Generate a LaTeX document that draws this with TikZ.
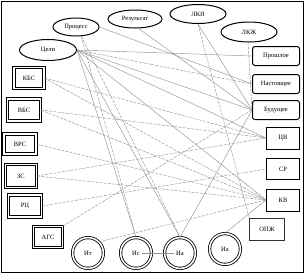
\documentclass[tikz,border=0pt]{standalone}
\usepackage{fontspec}
\setmainfont{Liberation Serif}
\usetikzlibrary{shapes.geometric}
\begin{document}
\begin{tikzpicture}[x=1pt,y=-1pt,
 lbl/.style={font=\fontsize{6.5}{7}\selectfont, inner sep=0pt},
 ell/.style={lbl, ellipse, draw=black, line width=1pt, fill=white},
 rbox/.style={lbl, draw=black, line width=1pt, rounded corners=2.5pt, fill=white},
 sbox/.style={lbl, draw=black, line width=1pt, fill=white},
 tbox/.style={lbl, draw=black!80, line width=0.6pt, fill=white},
 dbox/.style={lbl, draw=black, line width=0.8pt, double, double distance=1.8pt},
 dcirc/.style={lbl, circle, draw=black, line width=0.8pt, double, double distance=1.6pt, minimum size=30.8pt},
 conn/.style={draw=gray!85, line width=0.45pt},
 dconn/.style={conn, dash pattern=on 3pt off 1.2pt},
]
\useasboundingbox (0,0) rectangle (305,274);
\draw[line width=0.8pt] (1.5,1.5) rectangle (303.5,272.5);

% ellipses
\node[ell, minimum width=46pt, minimum height=18pt] (proc) at (76,27) {Процесс};
\node[ell, minimum width=54pt, minimum height=18pt] (res) at (135,19) {Результат};
\node[ell, minimum width=56pt, minimum height=19pt] (lkya) at (198,14) {ЛКЯ};
\node[ell, minimum width=56pt, minimum height=20pt] (lkzh) at (249,32) {ЛКЖ};
\node[ell, minimum width=57pt, minimum height=21pt] (celi) at (48,50) {Цели};

% right boxes
\node[rbox, minimum width=47pt, minimum height=19pt] (prosh) at (276,56) {Прошлое};
\node[rbox, minimum width=47pt, minimum height=19pt] (nast) at (276,84) {Настоящее};
\node[rbox, minimum width=47pt, minimum height=19pt] (bud) at (276,110) {Будущее};
\node[sbox, minimum width=33pt, minimum height=22pt] (cv) at (283,138) {ЦВ};
\node[sbox, minimum width=33pt, minimum height=21pt] (sr) at (283,169) {СР};
\node[sbox, minimum width=33pt, minimum height=22pt] (kv) at (283,200) {КВ};
\node[tbox, minimum width=35pt, minimum height=22pt] (opzh) at (267,229) {ОПЖ};

% left double boxes
\node[dbox, minimum width=30pt, minimum height=21pt] (kbs) at (29,78) {КБС};
\node[dbox, minimum width=33pt, minimum height=22pt] (vbs) at (24,110) {ВБС};
\node[dbox, minimum width=32pt, minimum height=20pt] (vrs) at (20,144) {ВРС};
\node[dbox, minimum width=31pt, minimum height=23pt] (zs) at (21,176) {ЗС};
\node[dbox, minimum width=33pt, minimum height=22pt] (rc) at (25,206) {РЦ};
\node[dbox, minimum width=29pt, minimum height=21pt] (ags) at (48,237) {АГС};

% circles
\node[dcirc] (it) at (88,253) {Ит};
\node[dcirc] (is) at (136,253) {Ис};
\node[dcirc] (ia1) at (180,253) {Иа};
\node[dcirc] (ia2) at (225,249) {Иа};

% connectors
\draw[conn] (celi.east) -- (prosh.west);
\draw[dconn] (celi.east) -- (nast.west);
\draw[conn] (celi.east) -- (bud.west);
\draw[conn] (celi.east) -- (cv.west);
\draw[conn] (celi.east) -- (kv.west);
\draw[conn] (celi.east) -- (is.north);
\draw[conn] (celi.east) -- (ia1.north);
\draw[conn] (proc.east) -- (nast.west);
\draw[dconn] (proc.-60) -- (is.north);
\draw[dconn] (proc.-60) -- (ia1.north);
\draw[conn] (res.-70) -- (bud.west);
\draw[conn] (lkya.south) -- (bud.west);
\draw[dconn] (lkya.south) -- (opzh.north west);
\draw[dconn] (lkzh.-95) -- (bud.west);
\draw[conn] (ia1.north) -- (bud.west);
\draw[conn] (ia2.north) -- (kv.west);
\draw[dconn] (kbs.east) -- (cv.west);
\draw[dconn] (kbs.east) -- (kv.west);
\draw[dconn] (vbs.east) -- (cv.west);
\draw[dconn] (vbs.east) -- (kv.west);
\draw[dconn] (vrs.east) -- (kv.west);
\draw[dconn] (zs.east) -- (cv.west);
\draw[dconn] (zs.east) -- (kv.west);
\draw[dconn] (rc.east) -- (sr.west);
\draw[dconn] (ags.north east) -- (bud.west);
\draw[dconn] (it.north east) -- (kv.west);
\draw[conn, line width=0.35pt] ([xshift=6pt]is.center) -- ([xshift=-6pt]ia1.center);
\end{tikzpicture}
\end{document}
